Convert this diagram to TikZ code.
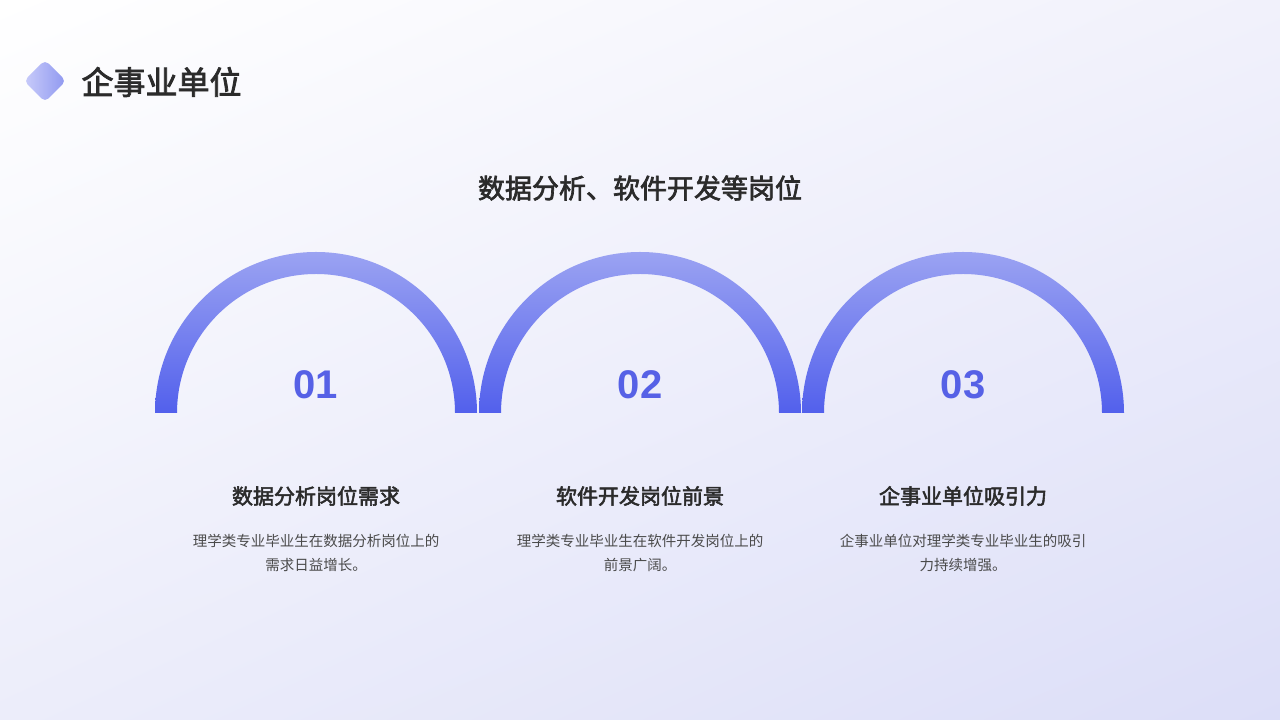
\documentclass[tikz,border=0pt]{standalone}
\usepackage{fontspec}
\setmainfont{Noto Sans CJK SC}[AutoFakeBold=2.5]
\setsansfont{Liberation Sans}
\usetikzlibrary{shapes.geometric,shadings}
\definecolor{num}{HTML}{5661E6}
\definecolor{dark}{HTML}{2B2B2B}
\definecolor{desc}{HTML}{4A4A4A}
\definecolor{bgA}{HTML}{F1F1FB}
\definecolor{bgB}{HTML}{ECEDFA}
\definecolor{bgC}{HTML}{DCDEF8}
\definecolor{arcT}{HTML}{9BA3F2}
\definecolor{arcB}{HTML}{5260EC}
\definecolor{logoL}{HTML}{C9CCFA}
\definecolor{logoR}{HTML}{8F98F0}
\tikzset{
 head/.style={font=\fontsize{21}{25}\selectfont\bfseries,text=dark},
 dsc/.style={font=\fontsize{14.5}{24}\selectfont,text=desc,align=center},
 numtxt/.style={font=\sffamily\bfseries\fontsize{40}{44}\selectfont,text=num}
}
\newcommand{\ringarc}[2]{%
 \shade[top color=arcT, bottom color=arcB]
  (#1-161,#2) arc(180:0:161) -- ++(-22,0) arc(0:180:139) -- cycle;}
\begin{document}
\begin{tikzpicture}[x=1pt,y=1pt]
\shade[upper left=white, upper right=bgA, lower left=bgB, lower right=bgC] (0,0) rectangle (1280,720);
\useasboundingbox (0,0) rectangle (1280,720);
% logo
\shade[left color=logoL, right color=logoR, rounded corners=5pt]
 (45,660) -- (66,639) -- (45,618) -- (24,639) -- cycle;
\node[anchor=west,font=\fontsize{32}{36}\selectfont\bfseries,text=dark] (title) at (78,638) {企事业单位};
\node[font=\fontsize{27}{32}\selectfont\bfseries,text=dark] (sub) at (640,532) {数据分析、软件开发等岗位};
\ringarc{316}{307}
\ringarc{640}{307}
\ringarc{963}{307}
\node[numtxt] (n1) at (316,335) {01};
\node[numtxt] (n2) at (640,335) {02};
\node[numtxt] (n3) at (963,335) {03};
\node[head] (h1) at (316,224) {数据分析岗位需求};
\node[head] (h2) at (640,224) {软件开发岗位前景};
\node[head] (h3) at (963,224) {企事业单位吸引力};
\node[dsc] (d1) at (316,167) {理学类专业毕业生在数据分析岗位上的\\需求日益增长。};
\node[dsc] (d2) at (640,167) {理学类专业毕业生在软件开发岗位上的\\前景广阔。};
\node[dsc] (d3) at (963,167) {企事业单位对理学类专业毕业生的吸引\\力持续增强。};
\end{tikzpicture}
\end{document}
